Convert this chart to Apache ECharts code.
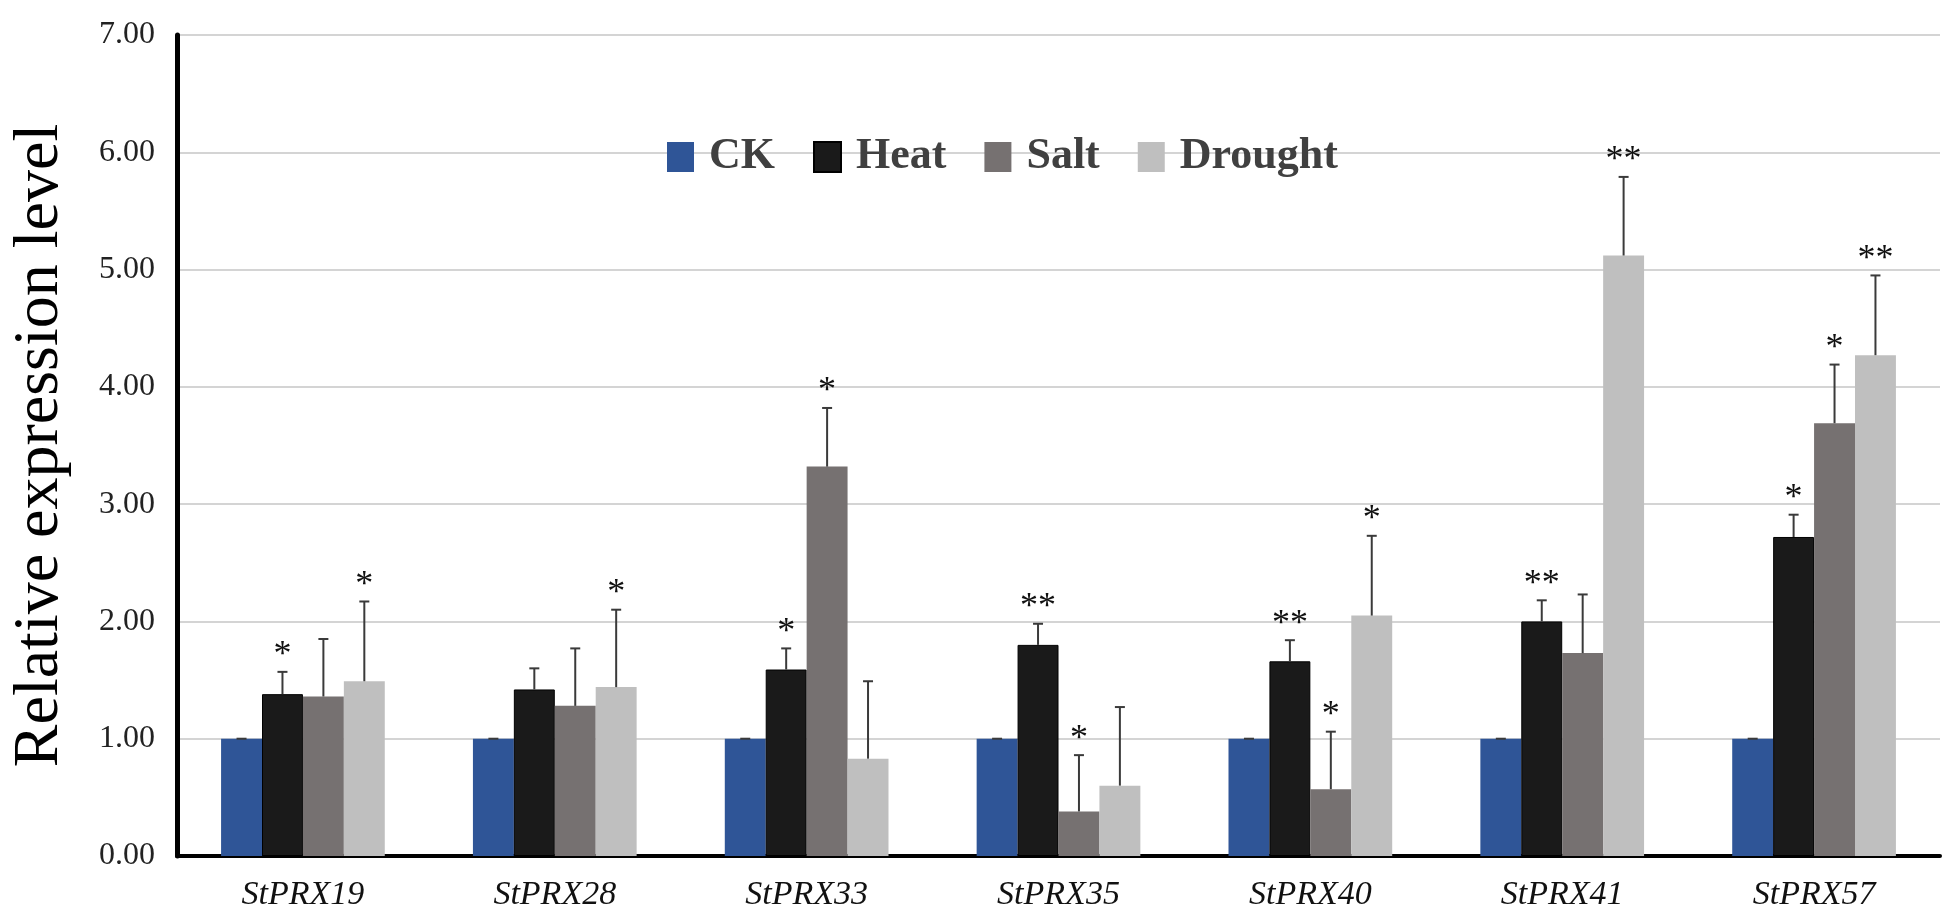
<!DOCTYPE html>
<html>
<head>
<meta charset="utf-8">
<script src="https://cdn.jsdelivr.net/npm/echarts@6/dist/echarts.min.js"></script>
<style>
html,body{margin:0;padding:0;background:#fff;}
#chart{width:1955px;height:924px;}
</style>
</head>
<body>
<div id="chart"></div>
<script>
const categories = ['StPRX19','StPRX28','StPRX33','StPRX35','StPRX40','StPRX41','StPRX57'];
const seriesNames = ['CK','Heat','Salt','Drought'];
const ckValues = [1.00,1.00,1.00,1.00,1.00,1.00,1.00];
const ckErrors = [0,0,0,0,0,0,0];
const heatValues = [1.38,1.42,1.59,1.80,1.66,2.00,2.72];
const heatErrors = [0.19,0.18,0.18,0.18,0.18,0.18,0.19];
const saltValues = [1.36,1.28,3.32,0.38,0.57,1.73,3.69];
const saltErrors = [0.49,0.49,0.50,0.48,0.49,0.50,0.50];
const droughtValues = [1.49,1.44,0.83,0.60,2.05,5.12,4.27];
const droughtErrors = [0.68,0.66,0.66,0.67,0.68,0.67,0.68];
const ckMarks = ['','','','','','',''];
const heatMarks = ['*','','*','**','**','**','*'];
const saltMarks = ['','','*','*','*','','*'];
const droughtMarks = ['*','*','','','*','**','**'];
const yTicks = [0,1,2,3,4,5,6,7];

const colors = ['#2F5597','#1a1a1a','#767171','#BFBFBF'];
const allValues = [ckValues, heatValues, saltValues, droughtValues];
const allErrors = [ckErrors, heatErrors, saltErrors, droughtErrors];
const allMarks = [ckMarks, heatMarks, saltMarks, droughtMarks];

const GAP = 0.35;
const errData = [];
for (let s = 0; s < 4; s++) {
  for (let c = 0; c < categories.length; c++) {
    errData.push([c, allValues[s][c], allErrors[s][c], s, allMarks[s][c]]);
  }
}

const barSeries = seriesNames.map((n, i) => ({
  name: n,
  type: 'bar',
  data: allValues[i],
  barGap: '0%',
  barCategoryGap: (GAP * 100) + '%',
  itemStyle: {
    color: colors[i],
    borderColor: i === 1 ? '#000' : colors[i],
    borderWidth: i === 1 ? 1 : 0
  },
  emphasis: {disabled: true}
}));

const errSeries = {
  type: 'custom',
  data: errData,
  z: 10,
  encode: {x: 0, y: 1},
  renderItem: function (params, api) {
    const c = api.value(0), v = api.value(1), e = api.value(2), s = api.value(3);
    const mark = errData[params.dataIndex][4];
    const band = api.size([1, 0])[0];
    const groupW = band * (1 - GAP);
    const bw = groupW / 4;
    const base = api.coord([c, v]);
    const top = api.coord([c, v + e]);
    const x = base[0] - groupW / 2 + (s + 0.5) * bw;
    const capHalf = 5;
    const lineStyle = {stroke: '#3a3a3a', lineWidth: 2};
    const children = [
      {type: 'line', shape: {x1: x, y1: base[1], x2: x, y2: top[1]}, style: lineStyle},
      {type: 'line', shape: {x1: x - capHalf, y1: top[1], x2: x + capHalf, y2: top[1]}, style: lineStyle}
    ];
    if (mark) {
      children.push({
        type: 'text',
        style: {
          text: mark, x: x, y: top[1] + 2,
          align: 'center', verticalAlign: 'bottom',
          font: '36px "Liberation Serif", serif', fill: '#111'
        }
      });
    }
    return {type: 'group', children: children};
  }
};

const chart = echarts.init(document.getElementById('chart'), null, {renderer: 'canvas'});
chart.setOption({
  animation: false,
  backgroundColor: '#fff',
  color: colors,
  grid: {left: 173, right: 15, top: 35, bottom: 68, containLabel: false},
  legend: {
    data: seriesNames,
    left: 662,
    top: 130,
    icon: 'rect',
    itemWidth: 27,
    itemHeight: 30,
    itemGap: 38,
    textStyle: {
      fontFamily: '"Liberation Serif", serif',
      fontWeight: 'bold',
      fontSize: 44,
      color: '#404040',
      padding: [0, 0, 0, 10]
    }
  },
  xAxis: {
    type: 'category',
    data: categories,
    axisLine: {lineStyle: {color: '#000', width: 4}},
    axisTick: {show: false},
    axisLabel: {
      fontFamily: '"Liberation Serif", serif',
      fontStyle: 'italic',
      fontSize: 34,
      color: '#111',
      margin: 22
    }
  },
  yAxis: {
    type: 'value',
    min: yTicks[0],
    max: yTicks[yTicks.length - 1],
    interval: 1,
    name: 'Relative expression level',
    nameLocation: 'middle',
    nameGap: 105,
    nameTextStyle: {
      fontFamily: '"Liberation Serif", serif',
      fontSize: 64,
      color: '#000'
    },
    axisLine: {show: true, lineStyle: {color: '#000', width: 5}},
    axisTick: {show: false},
    axisLabel: {
      formatter: v => v.toFixed(2),
      fontFamily: '"Liberation Serif", serif',
      fontSize: 32,
      color: '#222',
      margin: 22
    },
    splitLine: {lineStyle: {color: '#d4d4d4', width: 2}}
  },
  series: [...barSeries, errSeries]
});
</script>
</body>
</html>
